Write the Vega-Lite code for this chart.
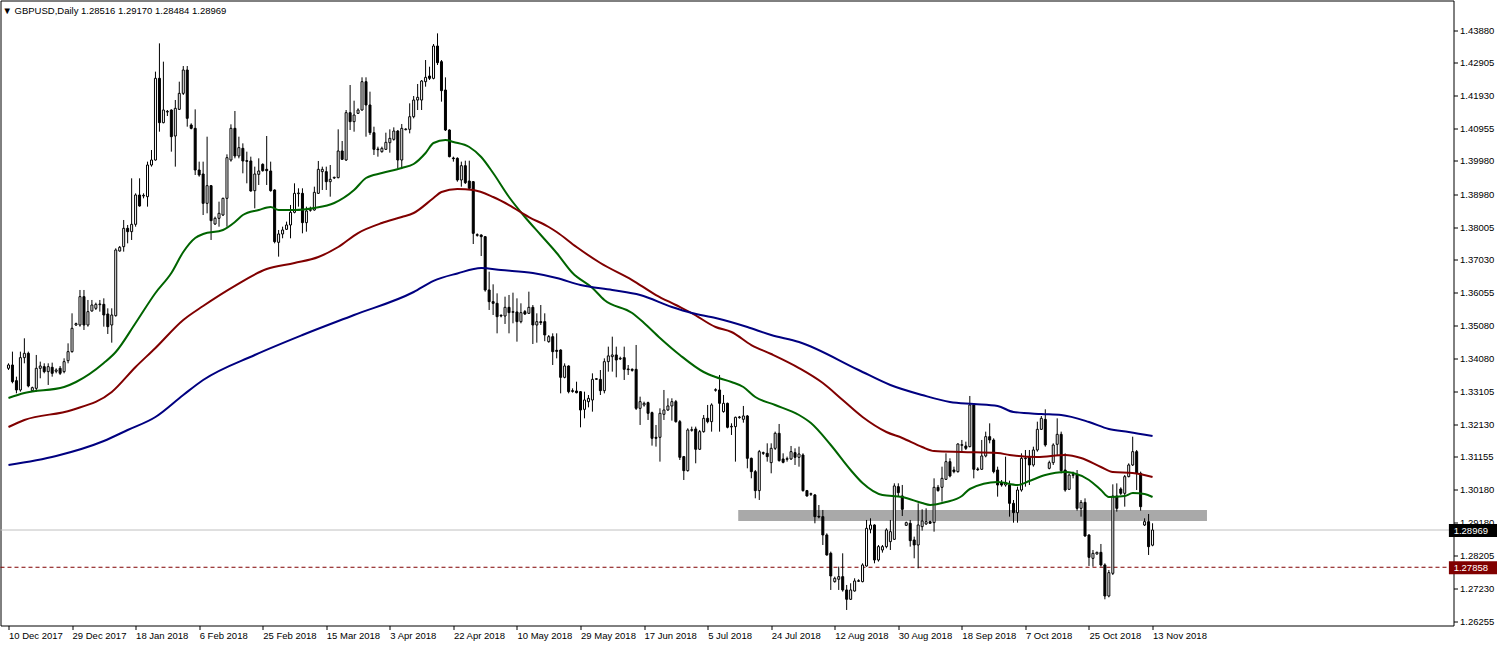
{
"$schema":"https://vega.github.io/schema/vega-lite/v6.json",
"width":1453,"height":625,
"autosize":{"type":"none"},
"padding":{"left":0.5,"top":0.5,"right":43.5,"bottom":20.5},
"background":"white",
"config":{"view":{"stroke":"black","strokeWidth":1},"font":"Liberation Sans",
"axis":{"grid":false,"domain":false,"labelFont":"Liberation Sans","labelFontSize":9.5,"labelColor":"black","tickColor":"black","tickSize":4,"title":null,"labelOverlap":false,"labelFlush":false,"labelBound":false,"labelSeparation":0},
"axisY":{"labelOverlap":false},"axisRight":{"labelOverlap":false},"axisQuantitative":{"labelOverlap":false}},
"title":{"text":"▼ GBPUSD,Daily  1.28516 1.29170 1.28484 1.28969","anchor":"start","frame":"group","orient":"top","offset":0,"dy":23,"baseline":"alphabetic","fontSize":9.5,"fontWeight":"normal","font":"Liberation Sans","color":"black","dx":2},
"datasets":{
"candles":[
{"i":0,"o":1.33791,"h":1.3394,"l":1.33741,"c":1.3389},
{"i":1,"o":1.3389,"h":1.34288,"l":1.33344,"c":1.33393},
{"i":2,"o":1.33423,"h":1.33542,"l":1.33045,"c":1.33145},
{"i":3,"o":1.33145,"h":1.34288,"l":1.33095,"c":1.34109},
{"i":4,"o":1.34109,"h":1.34686,"l":1.3394,"c":1.34238},
{"i":5,"o":1.34238,"h":1.34288,"l":1.33224,"c":1.33264},
{"i":6,"o":1.33125,"h":1.33244,"l":1.33095,"c":1.33214},
{"i":7,"o":1.33194,"h":1.34189,"l":1.33095,"c":1.33791},
{"i":8,"o":1.33791,"h":1.3399,"l":1.33493,"c":1.3386},
{"i":9,"o":1.3384,"h":1.3394,"l":1.33642,"c":1.33692},
{"i":10,"o":1.33692,"h":1.3394,"l":1.33294,"c":1.3384},
{"i":11,"o":1.33821,"h":1.3396,"l":1.33542,"c":1.33642},
{"i":12,"o":1.33702,"h":1.33791,"l":1.33642,"c":1.33741},
{"i":13,"o":1.33791,"h":1.3386,"l":1.33592,"c":1.33642},
{"i":14,"o":1.33692,"h":1.34089,"l":1.33642,"c":1.3399},
{"i":15,"o":1.34019,"h":1.34536,"l":1.3394,"c":1.34288},
{"i":16,"o":1.34288,"h":1.35431,"l":1.34258,"c":1.34984},
{"i":17,"o":1.35083,"h":1.35153,"l":1.35053,"c":1.35123},
{"i":18,"o":1.35083,"h":1.36127,"l":1.35033,"c":1.35928},
{"i":19,"o":1.35928,"h":1.36127,"l":1.34934,"c":1.35083},
{"i":20,"o":1.35083,"h":1.35829,"l":1.35033,"c":1.35481},
{"i":21,"o":1.35501,"h":1.35829,"l":1.35481,"c":1.35679},
{"i":22,"o":1.3558,"h":1.35749,"l":1.3553,"c":1.35699},
{"i":23,"o":1.35689,"h":1.35829,"l":1.35481,"c":1.35709},
{"i":24,"o":1.35699,"h":1.35878,"l":1.35033,"c":1.35381},
{"i":25,"o":1.35411,"h":1.3558,"l":1.34815,"c":1.35033},
{"i":26,"o":1.35083,"h":1.3558,"l":1.34556,"c":1.35381},
{"i":27,"o":1.35361,"h":1.3737,"l":1.35332,"c":1.3732},
{"i":28,"o":1.3729,"h":1.37439,"l":1.3727,"c":1.37399},
{"i":29,"o":1.37419,"h":1.38214,"l":1.3727,"c":1.37966},
{"i":30,"o":1.37966,"h":1.38065,"l":1.37518,"c":1.37866},
{"i":31,"o":1.37866,"h":1.39457,"l":1.37618,"c":1.38085},
{"i":32,"o":1.38085,"h":1.39009,"l":1.38015,"c":1.3896},
{"i":33,"o":1.3896,"h":1.39457,"l":1.38612,"c":1.38632},
{"i":34,"o":1.3893,"h":1.39009,"l":1.3886,"c":1.3895},
{"i":35,"o":1.3891,"h":1.39954,"l":1.38612,"c":1.39854},
{"i":36,"o":1.39854,"h":1.40302,"l":1.39805,"c":1.40003},
{"i":37,"o":1.40003,"h":1.42638,"l":1.39984,"c":1.42439},
{"i":38,"o":1.42439,"h":1.43482,"l":1.40848,"c":1.41117},
{"i":39,"o":1.41117,"h":1.42936,"l":1.41097,"c":1.41494},
{"i":40,"o":1.41435,"h":1.41494,"l":1.41315,"c":1.41455},
{"i":41,"o":1.41494,"h":1.41514,"l":1.40252,"c":1.40699},
{"i":42,"o":1.40719,"h":1.41793,"l":1.39805,"c":1.41544},
{"i":43,"o":1.41514,"h":1.42339,"l":1.41494,"c":1.41991},
{"i":44,"o":1.41991,"h":1.42806,"l":1.41942,"c":1.42687},
{"i":45,"o":1.42687,"h":1.42806,"l":1.40997,"c":1.41246},
{"i":46,"o":1.41047,"h":1.41097,"l":1.40918,"c":1.40948},
{"i":47,"o":1.40948,"h":1.41514,"l":1.39556,"c":1.39705},
{"i":48,"o":1.39705,"h":1.39954,"l":1.39506,"c":1.39556},
{"i":49,"o":1.39586,"h":1.39954,"l":1.38363,"c":1.38711},
{"i":50,"o":1.38711,"h":1.40699,"l":1.38413,"c":1.39238},
{"i":51,"o":1.39238,"h":1.39258,"l":1.37618,"c":1.38194},
{"i":52,"o":1.38095,"h":1.38314,"l":1.38065,"c":1.38264},
{"i":53,"o":1.38264,"h":1.38761,"l":1.38015,"c":1.38413},
{"i":54,"o":1.38363,"h":1.3888,"l":1.38333,"c":1.3886},
{"i":55,"o":1.3886,"h":1.40172,"l":1.38015,"c":1.40073},
{"i":56,"o":1.40003,"h":1.41067,"l":1.39954,"c":1.40948},
{"i":57,"o":1.40948,"h":1.41465,"l":1.40053,"c":1.40123},
{"i":58,"o":1.40123,"h":1.40699,"l":1.40053,"c":1.40371},
{"i":59,"o":1.40351,"h":1.405,"l":1.39606,"c":1.39974},
{"i":60,"o":1.39984,"h":1.40252,"l":1.39308,"c":1.39964},
{"i":61,"o":1.39974,"h":1.40103,"l":1.39059,"c":1.39079},
{"i":62,"o":1.39089,"h":1.39805,"l":1.38562,"c":1.39586},
{"i":63,"o":1.39576,"h":1.40053,"l":1.39258,"c":1.39675},
{"i":64,"o":1.39874,"h":1.39904,"l":1.39656,"c":1.39685},
{"i":65,"o":1.39725,"h":1.40719,"l":1.39258,"c":1.39685},
{"i":66,"o":1.39675,"h":1.39954,"l":1.39059,"c":1.39089},
{"i":67,"o":1.39109,"h":1.39129,"l":1.37518,"c":1.37568},
{"i":68,"o":1.37548,"h":1.37916,"l":1.37121,"c":1.37797},
{"i":69,"o":1.37797,"h":1.38015,"l":1.37668,"c":1.37916},
{"i":70,"o":1.37936,"h":1.38165,"l":1.37916,"c":1.38065},
{"i":71,"o":1.38065,"h":1.38662,"l":1.37668,"c":1.38443},
{"i":72,"o":1.38443,"h":1.39308,"l":1.38413,"c":1.39009},
{"i":73,"o":1.38999,"h":1.39159,"l":1.38612,"c":1.39019},
{"i":74,"o":1.39009,"h":1.39159,"l":1.37817,"c":1.38135},
{"i":75,"o":1.38135,"h":1.38612,"l":1.37866,"c":1.38483},
{"i":76,"o":1.38502,"h":1.38612,"l":1.38463,"c":1.38522},
{"i":77,"o":1.38512,"h":1.39208,"l":1.38493,"c":1.39039},
{"i":78,"o":1.39009,"h":1.39974,"l":1.38989,"c":1.39725},
{"i":79,"o":1.39656,"h":1.39805,"l":1.39109,"c":1.39725},
{"i":80,"o":1.39656,"h":1.39805,"l":1.39109,"c":1.39357},
{"i":81,"o":1.39357,"h":1.39854,"l":1.3891,"c":1.39427},
{"i":82,"o":1.39467,"h":1.39506,"l":1.39437,"c":1.39487},
{"i":83,"o":1.39477,"h":1.40918,"l":1.39457,"c":1.40272},
{"i":84,"o":1.40272,"h":1.4057,"l":1.40003,"c":1.40023},
{"i":85,"o":1.40003,"h":1.41494,"l":1.39974,"c":1.41415},
{"i":86,"o":1.41415,"h":1.4224,"l":1.40898,"c":1.41147},
{"i":87,"o":1.41147,"h":1.41773,"l":1.40848,"c":1.41345},
{"i":88,"o":1.41395,"h":1.41544,"l":1.41375,"c":1.41494},
{"i":89,"o":1.41494,"h":1.42469,"l":1.41475,"c":1.42339},
{"i":90,"o":1.42339,"h":1.42469,"l":1.40699,"c":1.41644},
{"i":91,"o":1.41644,"h":1.42041,"l":1.40749,"c":1.40818},
{"i":92,"o":1.40818,"h":1.40997,"l":1.40153,"c":1.40321},
{"i":93,"o":1.40331,"h":1.40401,"l":1.40103,"c":1.40311},
{"i":94,"o":1.40252,"h":1.40401,"l":1.40222,"c":1.40351},
{"i":95,"o":1.40321,"h":1.40818,"l":1.40302,"c":1.4053},
{"i":96,"o":1.4052,"h":1.40918,"l":1.40222,"c":1.40649},
{"i":97,"o":1.40619,"h":1.40977,"l":1.4058,"c":1.40868},
{"i":98,"o":1.40868,"h":1.40898,"l":1.39755,"c":1.40003},
{"i":99,"o":1.40003,"h":1.41077,"l":1.39755,"c":1.40947},
{"i":100,"o":1.40908,"h":1.40947,"l":1.40888,"c":1.40928},
{"i":101,"o":1.40918,"h":1.41693,"l":1.40798,"c":1.41295},
{"i":102,"o":1.41295,"h":1.41912,"l":1.41246,"c":1.41792},
{"i":103,"o":1.41792,"h":1.4227,"l":1.41494,"c":1.41872},
{"i":104,"o":1.41792,"h":1.42389,"l":1.41494,"c":1.42359},
{"i":105,"o":1.42339,"h":1.42985,"l":1.4219,"c":1.42468},
{"i":106,"o":1.42508,"h":1.42786,"l":1.42389,"c":1.42438},
{"i":107,"o":1.42438,"h":1.43462,"l":1.42409,"c":1.43403},
{"i":108,"o":1.43403,"h":1.4378,"l":1.42836,"c":1.42906},
{"i":109,"o":1.42936,"h":1.42985,"l":1.41743,"c":1.42071},
{"i":110,"o":1.42091,"h":1.42468,"l":1.40868,"c":1.40898},
{"i":111,"o":1.40898,"h":1.40918,"l":1.40083,"c":1.40103},
{"i":112,"o":1.40063,"h":1.40103,"l":1.39954,"c":1.40043},
{"i":113,"o":1.40053,"h":1.40083,"l":1.39357,"c":1.39407},
{"i":114,"o":1.39407,"h":1.39954,"l":1.39208,"c":1.39834},
{"i":115,"o":1.39834,"h":1.39983,"l":1.39288,"c":1.39327},
{"i":116,"o":1.39377,"h":1.39983,"l":1.39138,"c":1.39158},
{"i":117,"o":1.39357,"h":1.39377,"l":1.37498,"c":1.37816},
{"i":118,"o":1.37777,"h":1.37816,"l":1.37717,"c":1.37757},
{"i":119,"o":1.37767,"h":1.37787,"l":1.3714,"c":1.37717},
{"i":120,"o":1.37717,"h":1.37737,"l":1.36077,"c":1.36127},
{"i":121,"o":1.36127,"h":1.36673,"l":1.3553,"c":1.35779},
{"i":122,"o":1.35779,"h":1.36296,"l":1.35381,"c":1.35729},
{"i":123,"o":1.35729,"h":1.36027,"l":1.34834,"c":1.35331},
{"i":124,"o":1.35371,"h":1.35401,"l":1.35311,"c":1.35351},
{"i":125,"o":1.35351,"h":1.35928,"l":1.35113,"c":1.3561},
{"i":126,"o":1.3561,"h":1.35978,"l":1.34834,"c":1.35451},
{"i":127,"o":1.35461,"h":1.36047,"l":1.35133,"c":1.35481},
{"i":128,"o":1.35471,"h":1.35878,"l":1.34586,"c":1.35182},
{"i":129,"o":1.35182,"h":1.35729,"l":1.35133,"c":1.35451},
{"i":130,"o":1.35481,"h":1.3553,"l":1.35381,"c":1.35411},
{"i":131,"o":1.35431,"h":1.36077,"l":1.35411,"c":1.3561},
{"i":132,"o":1.3561,"h":1.35679,"l":1.34516,"c":1.35083},
{"i":133,"o":1.35083,"h":1.35431,"l":1.34556,"c":1.35182},
{"i":134,"o":1.35182,"h":1.35679,"l":1.35083,"c":1.35153},
{"i":135,"o":1.35182,"h":1.35431,"l":1.346,"c":1.34785},
{"i":136,"o":1.34586,"h":1.34784,"l":1.34555,"c":1.34735},
{"i":137,"o":1.34734,"h":1.34834,"l":1.3389,"c":1.34287},
{"i":138,"o":1.34327,"h":1.34834,"l":1.34088,"c":1.34297},
{"i":139,"o":1.34337,"h":1.34357,"l":1.33044,"c":1.33522},
{"i":140,"o":1.33522,"h":1.33939,"l":1.33492,"c":1.3386},
{"i":141,"o":1.3386,"h":1.3388,"l":1.33044,"c":1.33094},
{"i":142,"o":1.33124,"h":1.33194,"l":1.33064,"c":1.33104},
{"i":143,"o":1.33114,"h":1.33392,"l":1.33044,"c":1.33064},
{"i":144,"o":1.33094,"h":1.33114,"l":1.32031,"c":1.32547},
{"i":145,"o":1.32567,"h":1.33094,"l":1.32299,"c":1.32846},
{"i":146,"o":1.32796,"h":1.32995,"l":1.32627,"c":1.32895},
{"i":147,"o":1.32846,"h":1.33641,"l":1.32498,"c":1.33462},
{"i":148,"o":1.33462,"h":1.33502,"l":1.33442,"c":1.33482},
{"i":149,"o":1.33462,"h":1.3374,"l":1.32995,"c":1.33124},
{"i":150,"o":1.33124,"h":1.34088,"l":1.33044,"c":1.33989},
{"i":151,"o":1.3399,"h":1.34437,"l":1.33692,"c":1.34161},
{"i":152,"o":1.34139,"h":1.34735,"l":1.33692,"c":1.34189},
{"i":153,"o":1.34189,"h":1.34437,"l":1.33523,"c":1.34039},
{"i":154,"o":1.3407,"h":1.34139,"l":1.34039,"c":1.3409},
{"i":155,"o":1.34109,"h":1.34437,"l":1.33443,"c":1.33761},
{"i":156,"o":1.33771,"h":1.3389,"l":1.33592,"c":1.33751},
{"i":157,"o":1.33761,"h":1.3379,"l":1.33692,"c":1.33731},
{"i":158,"o":1.33761,"h":1.34487,"l":1.32548,"c":1.32598},
{"i":159,"o":1.32598,"h":1.32946,"l":1.32101,"c":1.32797},
{"i":160,"o":1.32698,"h":1.32797,"l":1.32648,"c":1.32747},
{"i":161,"o":1.32767,"h":1.32797,"l":1.3225,"c":1.32449},
{"i":162,"o":1.32469,"h":1.32499,"l":1.31485,"c":1.31704},
{"i":163,"o":1.31733,"h":1.32101,"l":1.31455,"c":1.31704},
{"i":164,"o":1.31733,"h":1.32598,"l":1.31008,"c":1.32449},
{"i":165,"o":1.32419,"h":1.33145,"l":1.3225,"c":1.32548},
{"i":166,"o":1.32548,"h":1.32896,"l":1.32519,"c":1.32668},
{"i":167,"o":1.32668,"h":1.32896,"l":1.3223,"c":1.32797},
{"i":168,"o":1.32797,"h":1.32847,"l":1.3217,"c":1.322},
{"i":169,"o":1.322,"h":1.3225,"l":1.31057,"c":1.31137},
{"i":170,"o":1.31157,"h":1.31177,"l":1.30461,"c":1.30739},
{"i":171,"o":1.30739,"h":1.32002,"l":1.30709,"c":1.31952},
{"i":172,"o":1.31942,"h":1.32051,"l":1.31902,"c":1.31962},
{"i":173,"o":1.31982,"h":1.32051,"l":1.30958,"c":1.31376},
{"i":174,"o":1.31376,"h":1.31952,"l":1.31356,"c":1.31902},
{"i":175,"o":1.31902,"h":1.32399,"l":1.31872,"c":1.323},
{"i":176,"o":1.323,"h":1.32698,"l":1.32151,"c":1.322},
{"i":177,"o":1.322,"h":1.32747,"l":1.31902,"c":1.32698},
{"i":178,"o":1.33135,"h":1.33195,"l":1.33095,"c":1.33155},
{"i":179,"o":1.33145,"h":1.33592,"l":1.31902,"c":1.32747},
{"i":180,"o":1.32499,"h":1.32996,"l":1.32469,"c":1.32747},
{"i":181,"o":1.32747,"h":1.32767,"l":1.32002,"c":1.32032},
{"i":182,"o":1.32042,"h":1.32151,"l":1.31803,"c":1.32061},
{"i":183,"o":1.32051,"h":1.3235,"l":1.31008,"c":1.3233},
{"i":184,"o":1.3232,"h":1.3237,"l":1.3229,"c":1.3234},
{"i":185,"o":1.3227,"h":1.32668,"l":1.3217,"c":1.3237},
{"i":186,"o":1.3237,"h":1.32399,"l":1.30809,"c":1.31107},
{"i":187,"o":1.31107,"h":1.31127,"l":1.30511,"c":1.30709},
{"i":188,"o":1.30709,"h":1.30759,"l":1.29914,"c":1.30143},
{"i":189,"o":1.30143,"h":1.31356,"l":1.29864,"c":1.31306},
{"i":190,"o":1.31276,"h":1.31306,"l":1.31207,"c":1.31256},
{"i":191,"o":1.31256,"h":1.31554,"l":1.31008,"c":1.31157},
{"i":192,"o":1.30978,"h":1.31554,"l":1.3066,"c":1.31405},
{"i":193,"o":1.31405,"h":1.31902,"l":1.31356,"c":1.31853},
{"i":194,"o":1.31853,"h":1.32131,"l":1.31008,"c":1.31038},
{"i":195,"o":1.31087,"h":1.31256,"l":1.30958,"c":1.30988},
{"i":196,"o":1.31077,"h":1.31157,"l":1.31008,"c":1.31097},
{"i":197,"o":1.31087,"h":1.31475,"l":1.31057,"c":1.31306},
{"i":198,"o":1.31276,"h":1.31405,"l":1.30908,"c":1.31137},
{"i":199,"o":1.31137,"h":1.31455,"l":1.30858,"c":1.31236},
{"i":200,"o":1.31206,"h":1.31256,"l":1.30113,"c":1.30143},
{"i":201,"o":1.30143,"h":1.30163,"l":1.29964,"c":1.29984},
{"i":202,"o":1.30033,"h":1.30083,"l":1.29984,"c":1.30053},
{"i":203,"o":1.30014,"h":1.30043,"l":1.29169,"c":1.29367},
{"i":204,"o":1.29377,"h":1.29715,"l":1.29318,"c":1.29357},
{"i":205,"o":1.29367,"h":1.29566,"l":1.28522,"c":1.28821},
{"i":206,"o":1.28821,"h":1.2887,"l":1.28204,"c":1.28224},
{"i":207,"o":1.28274,"h":1.28324,"l":1.27181,"c":1.27598},
{"i":208,"o":1.27429,"h":1.27578,"l":1.27399,"c":1.27529},
{"i":209,"o":1.27499,"h":1.27876,"l":1.27181,"c":1.27578},
{"i":210,"o":1.27578,"h":1.28274,"l":1.27131,"c":1.27181},
{"i":211,"o":1.27181,"h":1.2733,"l":1.26584,"c":1.26902},
{"i":212,"o":1.26902,"h":1.2738,"l":1.26882,"c":1.27181},
{"i":213,"o":1.27151,"h":1.27529,"l":1.27131,"c":1.27449},
{"i":214,"o":1.27439,"h":1.27499,"l":1.27419,"c":1.27459},
{"i":215,"o":1.27429,"h":1.27976,"l":1.27409,"c":1.27926},
{"i":216,"o":1.27896,"h":1.29268,"l":1.27876,"c":1.29019},
{"i":217,"o":1.2899,"h":1.29318,"l":1.2887,"c":1.29119},
{"i":218,"o":1.29119,"h":1.29139,"l":1.27976,"c":1.28075},
{"i":219,"o":1.28075,"h":1.28522,"l":1.28026,"c":1.28473},
{"i":220,"o":1.28373,"h":1.28522,"l":1.28294,"c":1.28473},
{"i":221,"o":1.28473,"h":1.29019,"l":1.28423,"c":1.2897},
{"i":222,"o":1.28622,"h":1.29268,"l":1.28373,"c":1.2892},
{"i":223,"o":1.28691,"h":1.30361,"l":1.28672,"c":1.30282},
{"i":224,"o":1.30262,"h":1.30361,"l":1.29964,"c":1.30083},
{"i":225,"o":1.29984,"h":1.30312,"l":1.29387,"c":1.29586},
{"i":226,"o":1.29109,"h":1.29218,"l":1.29089,"c":1.29189},
{"i":227,"o":1.29169,"h":1.29268,"l":1.28473,"c":1.28652},
{"i":228,"o":1.28672,"h":1.28771,"l":1.28125,"c":1.28522},
{"i":229,"o":1.28522,"h":1.29765,"l":1.27827,"c":1.29119},
{"i":230,"o":1.29069,"h":1.29586,"l":1.2895,"c":1.29238},
{"i":231,"o":1.2915,"h":1.29616,"l":1.29119,"c":1.29218},
{"i":232,"o":1.29218,"h":1.29248,"l":1.2915,"c":1.29169},
{"i":233,"o":1.29189,"h":1.3051,"l":1.2892,"c":1.30242},
{"i":234,"o":1.30242,"h":1.30312,"l":1.30113,"c":1.30143},
{"i":235,"o":1.30242,"h":1.30858,"l":1.29815,"c":1.3051},
{"i":236,"o":1.3048,"h":1.31256,"l":1.30461,"c":1.31007},
{"i":237,"o":1.31007,"h":1.31107,"l":1.3054,"c":1.3058},
{"i":238,"o":1.30759,"h":1.30858,"l":1.3066,"c":1.30709},
{"i":239,"o":1.30709,"h":1.31554,"l":1.3068,"c":1.31534},
{"i":240,"o":1.31495,"h":1.31654,"l":1.31306,"c":1.31514},
{"i":241,"o":1.31475,"h":1.31604,"l":1.31355,"c":1.31405},
{"i":242,"o":1.31455,"h":1.32966,"l":1.31435,"c":1.32697},
{"i":243,"o":1.32697,"h":1.32747,"l":1.3051,"c":1.30779},
{"i":244,"o":1.30789,"h":1.30839,"l":1.30729,"c":1.30769},
{"i":245,"o":1.30779,"h":1.31654,"l":1.30759,"c":1.31177},
{"i":246,"o":1.31177,"h":1.31902,"l":1.31137,"c":1.31753},
{"i":247,"o":1.31752,"h":1.3215,"l":1.31554,"c":1.31653},
{"i":248,"o":1.31653,"h":1.31703,"l":1.30659,"c":1.30709},
{"i":249,"o":1.30758,"h":1.30858,"l":1.29963,"c":1.30311},
{"i":250,"o":1.3038,"h":1.3046,"l":1.30261,"c":1.30311},
{"i":251,"o":1.30311,"h":1.31156,"l":1.30261,"c":1.3038},
{"i":252,"o":1.30311,"h":1.3044,"l":1.29367,"c":1.29764},
{"i":253,"o":1.29764,"h":1.29864,"l":1.29188,"c":1.29486},
{"i":254,"o":1.29486,"h":1.30261,"l":1.29188,"c":1.30162},
{"i":255,"o":1.30162,"h":1.31255,"l":1.30112,"c":1.31106},
{"i":256,"o":1.31096,"h":1.31355,"l":1.30261,"c":1.31116},
{"i":257,"o":1.31156,"h":1.31355,"l":1.30311,"c":1.30908},
{"i":258,"o":1.30908,"h":1.31454,"l":1.30858,"c":1.31355},
{"i":259,"o":1.31355,"h":1.322,"l":1.31305,"c":1.31971},
{"i":260,"o":1.31971,"h":1.32369,"l":1.31951,"c":1.32299},
{"i":261,"o":1.32269,"h":1.32568,"l":1.31454,"c":1.31504},
{"i":262,"o":1.30808,"h":1.31037,"l":1.30778,"c":1.30977},
{"i":263,"o":1.30977,"h":1.31554,"l":1.30908,"c":1.31504},
{"i":264,"o":1.31524,"h":1.32299,"l":1.31206,"c":1.31822},
{"i":265,"o":1.31822,"h":1.31902,"l":1.30659,"c":1.30739},
{"i":266,"o":1.30758,"h":1.31255,"l":1.30112,"c":1.30162},
{"i":267,"o":1.30182,"h":1.30659,"l":1.30162,"c":1.30609},
{"i":268,"o":1.30599,"h":1.30709,"l":1.3051,"c":1.30619},
{"i":269,"o":1.30609,"h":1.30758,"l":1.29546,"c":1.29615},
{"i":270,"o":1.29615,"h":1.29864,"l":1.29367,"c":1.29794},
{"i":271,"o":1.29794,"h":1.29913,"l":1.2877,"c":1.2879},
{"i":272,"o":1.2882,"h":1.2884,"l":1.27896,"c":1.28154},
{"i":273,"o":1.28124,"h":1.28373,"l":1.27876,"c":1.28273},
{"i":274,"o":1.28254,"h":1.28323,"l":1.28234,"c":1.28303},
{"i":275,"o":1.28303,"h":1.28552,"l":1.27876,"c":1.27926},
{"i":276,"o":1.27926,"h":1.27975,"l":1.26902,"c":1.27001},
{"i":277,"o":1.27001,"h":1.27777,"l":1.26961,"c":1.27697},
{"i":278,"o":1.27677,"h":1.30331,"l":1.27627,"c":1.29983},
{"i":279,"o":1.29983,"h":1.3036,"l":1.29516,"c":1.29615},
{"i":280,"o":1.30192,"h":1.30242,"l":1.30013,"c":1.30063},
{"i":281,"o":1.30063,"h":1.30609,"l":1.29665,"c":1.3056},
{"i":282,"o":1.3056,"h":1.30957,"l":1.3054,"c":1.30908},
{"i":283,"o":1.30908,"h":1.31752,"l":1.30878,"c":1.31305},
{"i":284,"o":1.31305,"h":1.31355,"l":1.30162,"c":1.30659},
{"i":285,"o":1.30659,"h":1.30709,"l":1.29546,"c":1.29665},
{"i":286,"o":1.29118,"h":1.29317,"l":1.29088,"c":1.29218},
{"i":287,"o":1.29218,"h":1.29446,"l":1.28224,"c":1.28472},
{"i":288,"o":1.28516,"h":1.2917,"l":1.28484,"c":1.28969}
],
"ma":[
{"s":"short","i":0,"v":1.32906},{"s":"short","i":4,"v":1.33055},{"s":"short","i":14,"v":1.33234},{"s":"short","i":17,"v":1.33383},{"s":"short","i":24,"v":1.33949},{"s":"short","i":27,"v":1.34277},{"s":"short","i":32,"v":1.35142},{"s":"short","i":37,"v":1.36037},{"s":"short","i":41,"v":1.36633},{"s":"short","i":44,"v":1.3726},{"s":"short","i":47,"v":1.37677},{"s":"short","i":49,"v":1.37796},{"s":"short","i":54,"v":1.37916},{"s":"short","i":57,"v":1.38154},{"s":"short","i":59,"v":1.38363},{"s":"short","i":63,"v":1.38512},{"s":"short","i":66,"v":1.38602},{"s":"short","i":68,"v":1.38512},{"s":"short","i":72,"v":1.38512},{"s":"short","i":77,"v":1.38572},{"s":"short","i":82,"v":1.38721},{"s":"short","i":87,"v":1.39108},{"s":"short","i":90,"v":1.39466},{"s":"short","i":94,"v":1.39615},{"s":"short","i":99,"v":1.39765},{"s":"short","i":102,"v":1.39884},{"s":"short","i":105,"v":1.40212},{"s":"short","i":107,"v":1.4051},{"s":"short","i":110,"v":1.406},{"s":"short","i":112,"v":1.4054},{"s":"short","i":116,"v":1.40391},{"s":"short","i":119,"v":1.40093},{"s":"short","i":122,"v":1.39615},{"s":"short","i":126,"v":1.389},{"s":"short","i":130,"v":1.38303},{"s":"short","i":134,"v":1.37766},{"s":"short","i":138,"v":1.3723},{"s":"short","i":142,"v":1.36633},{"s":"short","i":147,"v":1.36186},{"s":"short","i":150,"v":1.35828},{"s":"short","i":157,"v":1.3544},{"s":"short","i":160,"v":1.35142},{"s":"short","i":164,"v":1.34695},{"s":"short","i":169,"v":1.34188},{"s":"short","i":175,"v":1.33681},{"s":"short","i":178,"v":1.33532},{"s":"short","i":182,"v":1.33383},{"s":"short","i":185,"v":1.33234},{"s":"short","i":188,"v":1.32935},{"s":"short","i":193,"v":1.32697},{"s":"short","i":199,"v":1.32399},{"s":"short","i":202,"v":1.3216},{"s":"short","i":207,"v":1.31504},{"s":"short","i":212,"v":1.30758},{"s":"short","i":215,"v":1.3037},{"s":"short","i":220,"v":1.30013},{"s":"short","i":225,"v":1.29953},{"s":"short","i":230,"v":1.29774},{"s":"short","i":232,"v":1.29715},{"s":"short","i":236,"v":1.29804},{"s":"short","i":240,"v":1.29983},{"s":"short","i":242,"v":1.30192},{"s":"short","i":249,"v":1.304},{"s":"short","i":254,"v":1.30311},{"s":"short","i":257,"v":1.3043},{"s":"short","i":261,"v":1.30609},{"s":"short","i":266,"v":1.30699},{"s":"short","i":268,"v":1.30669},{"s":"short","i":272,"v":1.3046},{"s":"short","i":275,"v":1.30162},{"s":"short","i":277,"v":1.29953},{"s":"short","i":281,"v":1.29983},{"s":"short","i":283,"v":1.30072},{"s":"short","i":286,"v":1.30043},{"s":"short","i":288,"v":1.29953},
{"s":"medium","i":0,"v":1.32041},{"s":"medium","i":4,"v":1.32249},{"s":"medium","i":16,"v":1.32548},{"s":"medium","i":26,"v":1.33084},{"s":"medium","i":32,"v":1.3383},{"s":"medium","i":37,"v":1.34397},{"s":"medium","i":44,"v":1.35232},{"s":"medium","i":49,"v":1.35649},{"s":"medium","i":57,"v":1.3625},{"s":"medium","i":65,"v":1.36753},{"s":"medium","i":72,"v":1.36931},{"s":"medium","i":78,"v":1.3711},{"s":"medium","i":83,"v":1.37409},{"s":"medium","i":88,"v":1.37826},{"s":"medium","i":94,"v":1.38124},{"s":"medium","i":99,"v":1.38303},{"s":"medium","i":102,"v":1.38423},{"s":"medium","i":107,"v":1.3887},{"s":"medium","i":109,"v":1.39049},{"s":"medium","i":113,"v":1.39138},{"s":"medium","i":117,"v":1.39108},{"s":"medium","i":122,"v":1.389},{"s":"medium","i":126,"v":1.38661},{"s":"medium","i":131,"v":1.38303},{"s":"medium","i":136,"v":1.38005},{"s":"medium","i":138,"v":1.37856},{"s":"medium","i":143,"v":1.37409},{"s":"medium","i":149,"v":1.36931},{"s":"medium","i":157,"v":1.36424},{"s":"medium","i":163,"v":1.35977},{"s":"medium","i":168,"v":1.35679},{"s":"medium","i":172,"v":1.3544},{"s":"medium","i":178,"v":1.35023},{"s":"medium","i":182,"v":1.34874},{"s":"medium","i":187,"v":1.34486},{"s":"medium","i":192,"v":1.34218},{"s":"medium","i":199,"v":1.338},{"s":"medium","i":205,"v":1.33353},{"s":"medium","i":210,"v":1.32846},{"s":"medium","i":215,"v":1.32339},{"s":"medium","i":221,"v":1.31892},{"s":"medium","i":225,"v":1.31713},{"s":"medium","i":230,"v":1.31444},{"s":"medium","i":233,"v":1.31325},{"s":"medium","i":240,"v":1.31295},{"s":"medium","i":249,"v":1.31265},{"s":"medium","i":252,"v":1.31206},{"s":"medium","i":259,"v":1.31146},{"s":"medium","i":266,"v":1.31206},{"s":"medium","i":270,"v":1.31116},{"s":"medium","i":275,"v":1.30848},{"s":"medium","i":278,"v":1.30699},{"s":"medium","i":283,"v":1.30669},{"s":"medium","i":288,"v":1.3055},
{"s":"long","i":0,"v":1.30907},{"s":"long","i":12,"v":1.31176},{"s":"long","i":24,"v":1.31623},{"s":"long","i":30,"v":1.31951},{"s":"long","i":37,"v":1.32339},{"s":"long","i":44,"v":1.32995},{"s":"long","i":49,"v":1.33442},{"s":"long","i":62,"v":1.34188},{"s":"long","i":74,"v":1.34784},{"s":"long","i":87,"v":1.35381},{"s":"long","i":102,"v":1.36067},{"s":"long","i":107,"v":1.364},{"s":"long","i":113,"v":1.3662},{"s":"long","i":119,"v":1.36782},{"s":"long","i":124,"v":1.36723},{"s":"long","i":132,"v":1.36633},{"s":"long","i":138,"v":1.36484},{"s":"long","i":144,"v":1.36275},{"s":"long","i":152,"v":1.36126},{"s":"long","i":159,"v":1.35977},{"s":"long","i":167,"v":1.35619},{"s":"long","i":172,"v":1.3544},{"s":"long","i":178,"v":1.35291},{"s":"long","i":186,"v":1.35023},{"s":"long","i":192,"v":1.34784},{"s":"long","i":199,"v":1.34576},{"s":"long","i":214,"v":1.3374},{"s":"long","i":222,"v":1.33293},{"s":"long","i":230,"v":1.32995},{"s":"long","i":237,"v":1.32786},{"s":"long","i":243,"v":1.32727},{"s":"long","i":249,"v":1.32667},{"s":"long","i":253,"v":1.32488},{"s":"long","i":260,"v":1.32428},{"s":"long","i":265,"v":1.32399},{"s":"long","i":272,"v":1.3219},{"s":"long","i":277,"v":1.31981},{"s":"long","i":282,"v":1.31892},{"s":"long","i":288,"v":1.31772}
],
"levels":[{"p":1.28969,"k":"bid","t":"1.28969"},{"p":1.27858,"k":"line","t":"1.27858"}],
"zone":[{"i1":183.7,"i2":301.7,"lo":1.29237,"hi":1.29565}]
},
"layer":[
{"data":{"name":"zone"},"mark":{"type":"rect","color":"#a9a9a9","clip":true},
 "encoding":{
  "x":{"field":"i1","type":"quantitative","scale":{"domain":[-0.75,362.5],"nice":false,"zero":false},
   "axis":{"orient":"bottom","values":[0,16,32,48,64,80,96,112,128,144,160,176,192,208,224,240,256,272,288],
   "labelExpr":"['10 Dec 2017','29 Dec 2017','18 Jan 2018','6 Feb 2018','25 Feb 2018','15 Mar 2018','3 Apr 2018','22 Apr 2018','10 May 2018','29 May 2018','17 Jun 2018','5 Jul 2018','24 Jul 2018','12 Aug 2018','30 Aug 2018','18 Sep 2018','7 Oct 2018','25 Oct 2018','13 Nov 2018'][round(datum.value/16)]",
   "labelAlign":"left","labelBaseline":"top","labelPadding":1,"labelOffset":0,"tickSize":4,"labelOverlap":false}},
  "x2":{"field":"i2"},
  "y":{"field":"lo","type":"quantitative","scale":{"domain":[1.26121,1.4476],"nice":false,"zero":false},
   "axis":{"orient":"right","values":[1.4388,1.42905,1.4193,1.40955,1.3998,1.3898,1.38005,1.3703,1.36055,1.3508,1.3408,1.33105,1.3213,1.31155,1.3018,1.2918,1.28205,1.2723,1.26255],
   "format":".5f","labelAlign":"left","labelBaseline":"middle","labelPadding":2,"tickSize":4,"labelOverlap":false}},
  "y2":{"field":"hi"}}},
{"data":{"name":"levels"},"transform":[{"filter":"datum.k == 'bid'"}],"mark":{"type":"rule","color":"#c0c0c0","strokeWidth":1},
 "encoding":{"y":{"field":"p","type":"quantitative","axis":{"orient":"right","values":[1.4388,1.42905,1.4193,1.40955,1.3998,1.3898,1.38005,1.3703,1.36055,1.3508,1.3408,1.33105,1.3213,1.31155,1.3018,1.2918,1.28205,1.2723,1.26255],"format":".5f","labelAlign":"left","labelBaseline":"middle","labelPadding":2,"tickSize":4,"labelOverlap":false}}}},
{"data":{"name":"levels"},"transform":[{"filter":"datum.k == 'line'"}],"mark":{"type":"rule","color":"#800000","strokeWidth":1,"strokeDash":[4,3]},
 "encoding":{"y":{"field":"p","type":"quantitative","axis":{"orient":"right","values":[1.4388,1.42905,1.4193,1.40955,1.3998,1.3898,1.38005,1.3703,1.36055,1.3508,1.3408,1.33105,1.3213,1.31155,1.3018,1.2918,1.28205,1.2723,1.26255],"format":".5f","labelAlign":"left","labelBaseline":"middle","labelPadding":2,"tickSize":4,"labelOverlap":false}}}},
{"data":{"name":"candles"},"mark":{"type":"rule","color":"black","strokeWidth":1,"clip":true},
 "encoding":{"x":{"field":"i","type":"quantitative"},"y":{"field":"l","type":"quantitative","axis":{"orient":"right","values":[1.4388,1.42905,1.4193,1.40955,1.3998,1.3898,1.38005,1.3703,1.36055,1.3508,1.3408,1.33105,1.3213,1.31155,1.3018,1.2918,1.28205,1.2723,1.26255],"format":".5f","labelAlign":"left","labelBaseline":"middle","labelPadding":2,"tickSize":4,"labelOverlap":false}},"y2":{"field":"h"}}},
{"data":{"name":"candles"},"mark":{"type":"bar","width":2,"stroke":"black","strokeWidth":1,"clip":true},
 "encoding":{"x":{"field":"i","type":"quantitative"},"y":{"field":"o","type":"quantitative","axis":{"orient":"right","values":[1.4388,1.42905,1.4193,1.40955,1.3998,1.3898,1.38005,1.3703,1.36055,1.3508,1.3408,1.33105,1.3213,1.31155,1.3018,1.2918,1.28205,1.2723,1.26255],"format":".5f","labelAlign":"left","labelBaseline":"middle","labelPadding":2,"tickSize":4,"labelOverlap":false}},"y2":{"field":"c"},
  "fill":{"condition":{"test":"datum.c >= datum.o","value":"white"},"value":"black"}}},
{"data":{"name":"ma"},"mark":{"type":"line","interpolate":"monotone","strokeWidth":2,"clip":true},
 "encoding":{"x":{"field":"i","type":"quantitative"},"y":{"field":"v","type":"quantitative","axis":{"orient":"right","values":[1.4388,1.42905,1.4193,1.40955,1.3998,1.3898,1.38005,1.3703,1.36055,1.3508,1.3408,1.33105,1.3213,1.31155,1.3018,1.2918,1.28205,1.2723,1.26255],"format":".5f","labelAlign":"left","labelBaseline":"middle","labelPadding":2,"tickSize":4,"labelOverlap":false}},
  "color":{"field":"s","type":"nominal","scale":{"domain":["short","medium","long"],"range":["#006400","#800000","#000080"]},"legend":null}}},
{"data":{"name":"levels"},"mark":{"type":"rect","clip":false,"yOffset":-6,"y2Offset":7},
 "encoding":{"x":{"datum":362.6},"x2":{"datum":375},"y":{"field":"p","type":"quantitative","axis":{"orient":"right","values":[1.4388,1.42905,1.4193,1.40955,1.3998,1.3898,1.38005,1.3703,1.36055,1.3508,1.3408,1.33105,1.3213,1.31155,1.3018,1.2918,1.28205,1.2723,1.26255],"format":".5f","labelAlign":"left","labelBaseline":"middle","labelPadding":2,"tickSize":4,"labelOverlap":false}},"y2":{"field":"p"},
  "fill":{"condition":{"test":"datum.k == 'bid'","value":"black"},"value":"#800000"}}},
{"data":{"name":"levels"},"mark":{"type":"text","clip":false,"align":"left","baseline":"middle","color":"white","font":"Liberation Sans","fontSize":9.5,"dy":0.5},
 "encoding":{"x":{"datum":363.8},"y":{"field":"p","type":"quantitative","axis":{"orient":"right","values":[1.4388,1.42905,1.4193,1.40955,1.3998,1.3898,1.38005,1.3703,1.36055,1.3508,1.3408,1.33105,1.3213,1.31155,1.3018,1.2918,1.28205,1.2723,1.26255],"format":".5f","labelAlign":"left","labelBaseline":"middle","labelPadding":2,"tickSize":4,"labelOverlap":false}},"text":{"field":"t"}}}
]
}
